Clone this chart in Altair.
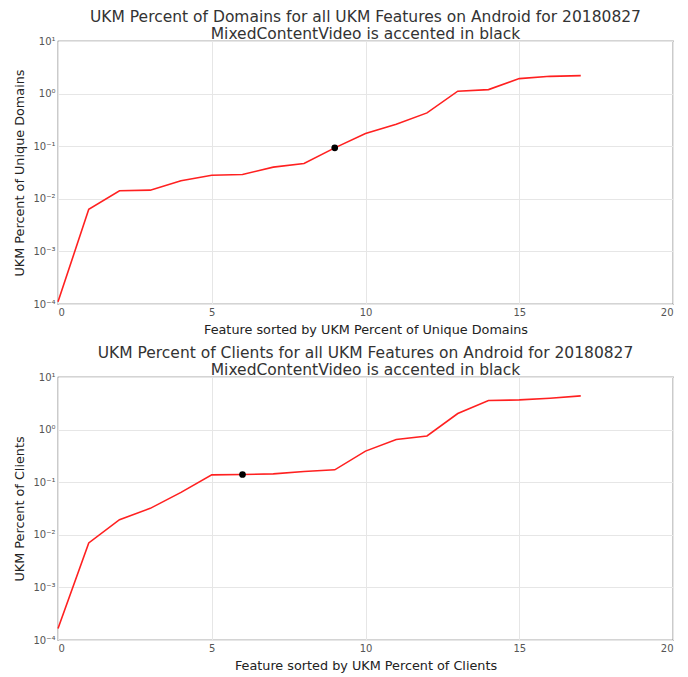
import altair as alt
import pandas as pd

feature_idx = list(range(18))
domains_pct = [1.1e-4, 0.0063, 0.0142, 0.0146, 0.022, 0.028, 0.029, 0.040, 0.047,
               0.093, 0.174, 0.262, 0.43, 1.11, 1.19, 1.93, 2.13, 2.2]
clients_pct = [1.66e-4, 0.0070, 0.0194, 0.0318, 0.064, 0.138, 0.140, 0.144, 0.160,
               0.172, 0.39, 0.65, 0.755, 2.02, 3.57, 3.67, 3.95, 4.37]
accent_domains = 9
accent_clients = 6

x_ticks = [0, 5, 10, 15, 20]
y_ticks = [1e-4, 1e-3, 1e-2, 1e-1, 1, 10]

label_expr = ("datum.value >= 9 ? '10\u00b9' : datum.value >= 0.9 ? '10\u2070' : "
              "datum.value >= 0.09 ? '10\u207b\u00b9' : datum.value >= 0.009 ? '10\u207b\u00b2' : "
              "datum.value >= 0.0009 ? '10\u207b\u00b3' : '10\u207b\u2074'")


def panel(values, accent, line1, ytitle, xtitle):
    df = pd.DataFrame({"x": feature_idx, "y": values})
    x = alt.X("x:Q", scale=alt.Scale(domain=[0, 20], nice=False),
              axis=alt.Axis(values=x_ticks, title=xtitle, titlePadding=6))
    y = alt.Y("y:Q", scale=alt.Scale(type="log", domain=[1e-4, 10], nice=False),
              axis=alt.Axis(values=y_ticks, labelExpr=label_expr, title=ytitle))
    base = alt.Chart(df)
    line = base.mark_line(color="#ff2020", strokeWidth=1.6).encode(x=x, y=y)
    pt = base.transform_filter(alt.datum.x == accent).mark_point(
        filled=True, color="black", size=45, opacity=1).encode(x=x, y=y)
    return (line + pt).properties(
        width=615, height=263,
        title=alt.Title([line1, "MixedContentVideo is accented in black"],
                        fontSize=15.5, fontWeight="normal", color="#333333",
                        font="DejaVu Sans", offset=-6, lineHeight=17))


top = panel(domains_pct, accent_domains,
            "UKM Percent of Domains for all UKM Features on Android for 20180827",
            "UKM Percent of Unique Domains",
            "Feature sorted by UKM Percent of Unique Domains")
bottom = panel(clients_pct, accent_clients,
               "UKM Percent of Clients for all UKM Features on Android for 20180827",
               "UKM Percent of Clients",
               "Feature sorted by UKM Percent of Clients")

chart = alt.vconcat(top, bottom, spacing=7).properties(
    padding={"left": 5, "top": 0, "right": 0, "bottom": 0}
).configure_view(
    stroke="#555555", strokeWidth=1.2
).configure_axis(
    domain=False, ticks=False, grid=True, gridColor="#e6e6e6",
    labelFont="DejaVu Sans", labelFontSize=10, labelColor="#555555", labelPadding=3,
    titleFont="DejaVu Sans", titleFontSize=12.8, titleFontWeight="normal",
    titleColor="#222222", titlePadding=6
).configure_concat(spacing=7)

chart.save("out.html", embed_options={"renderer": "svg", "actions": False})
